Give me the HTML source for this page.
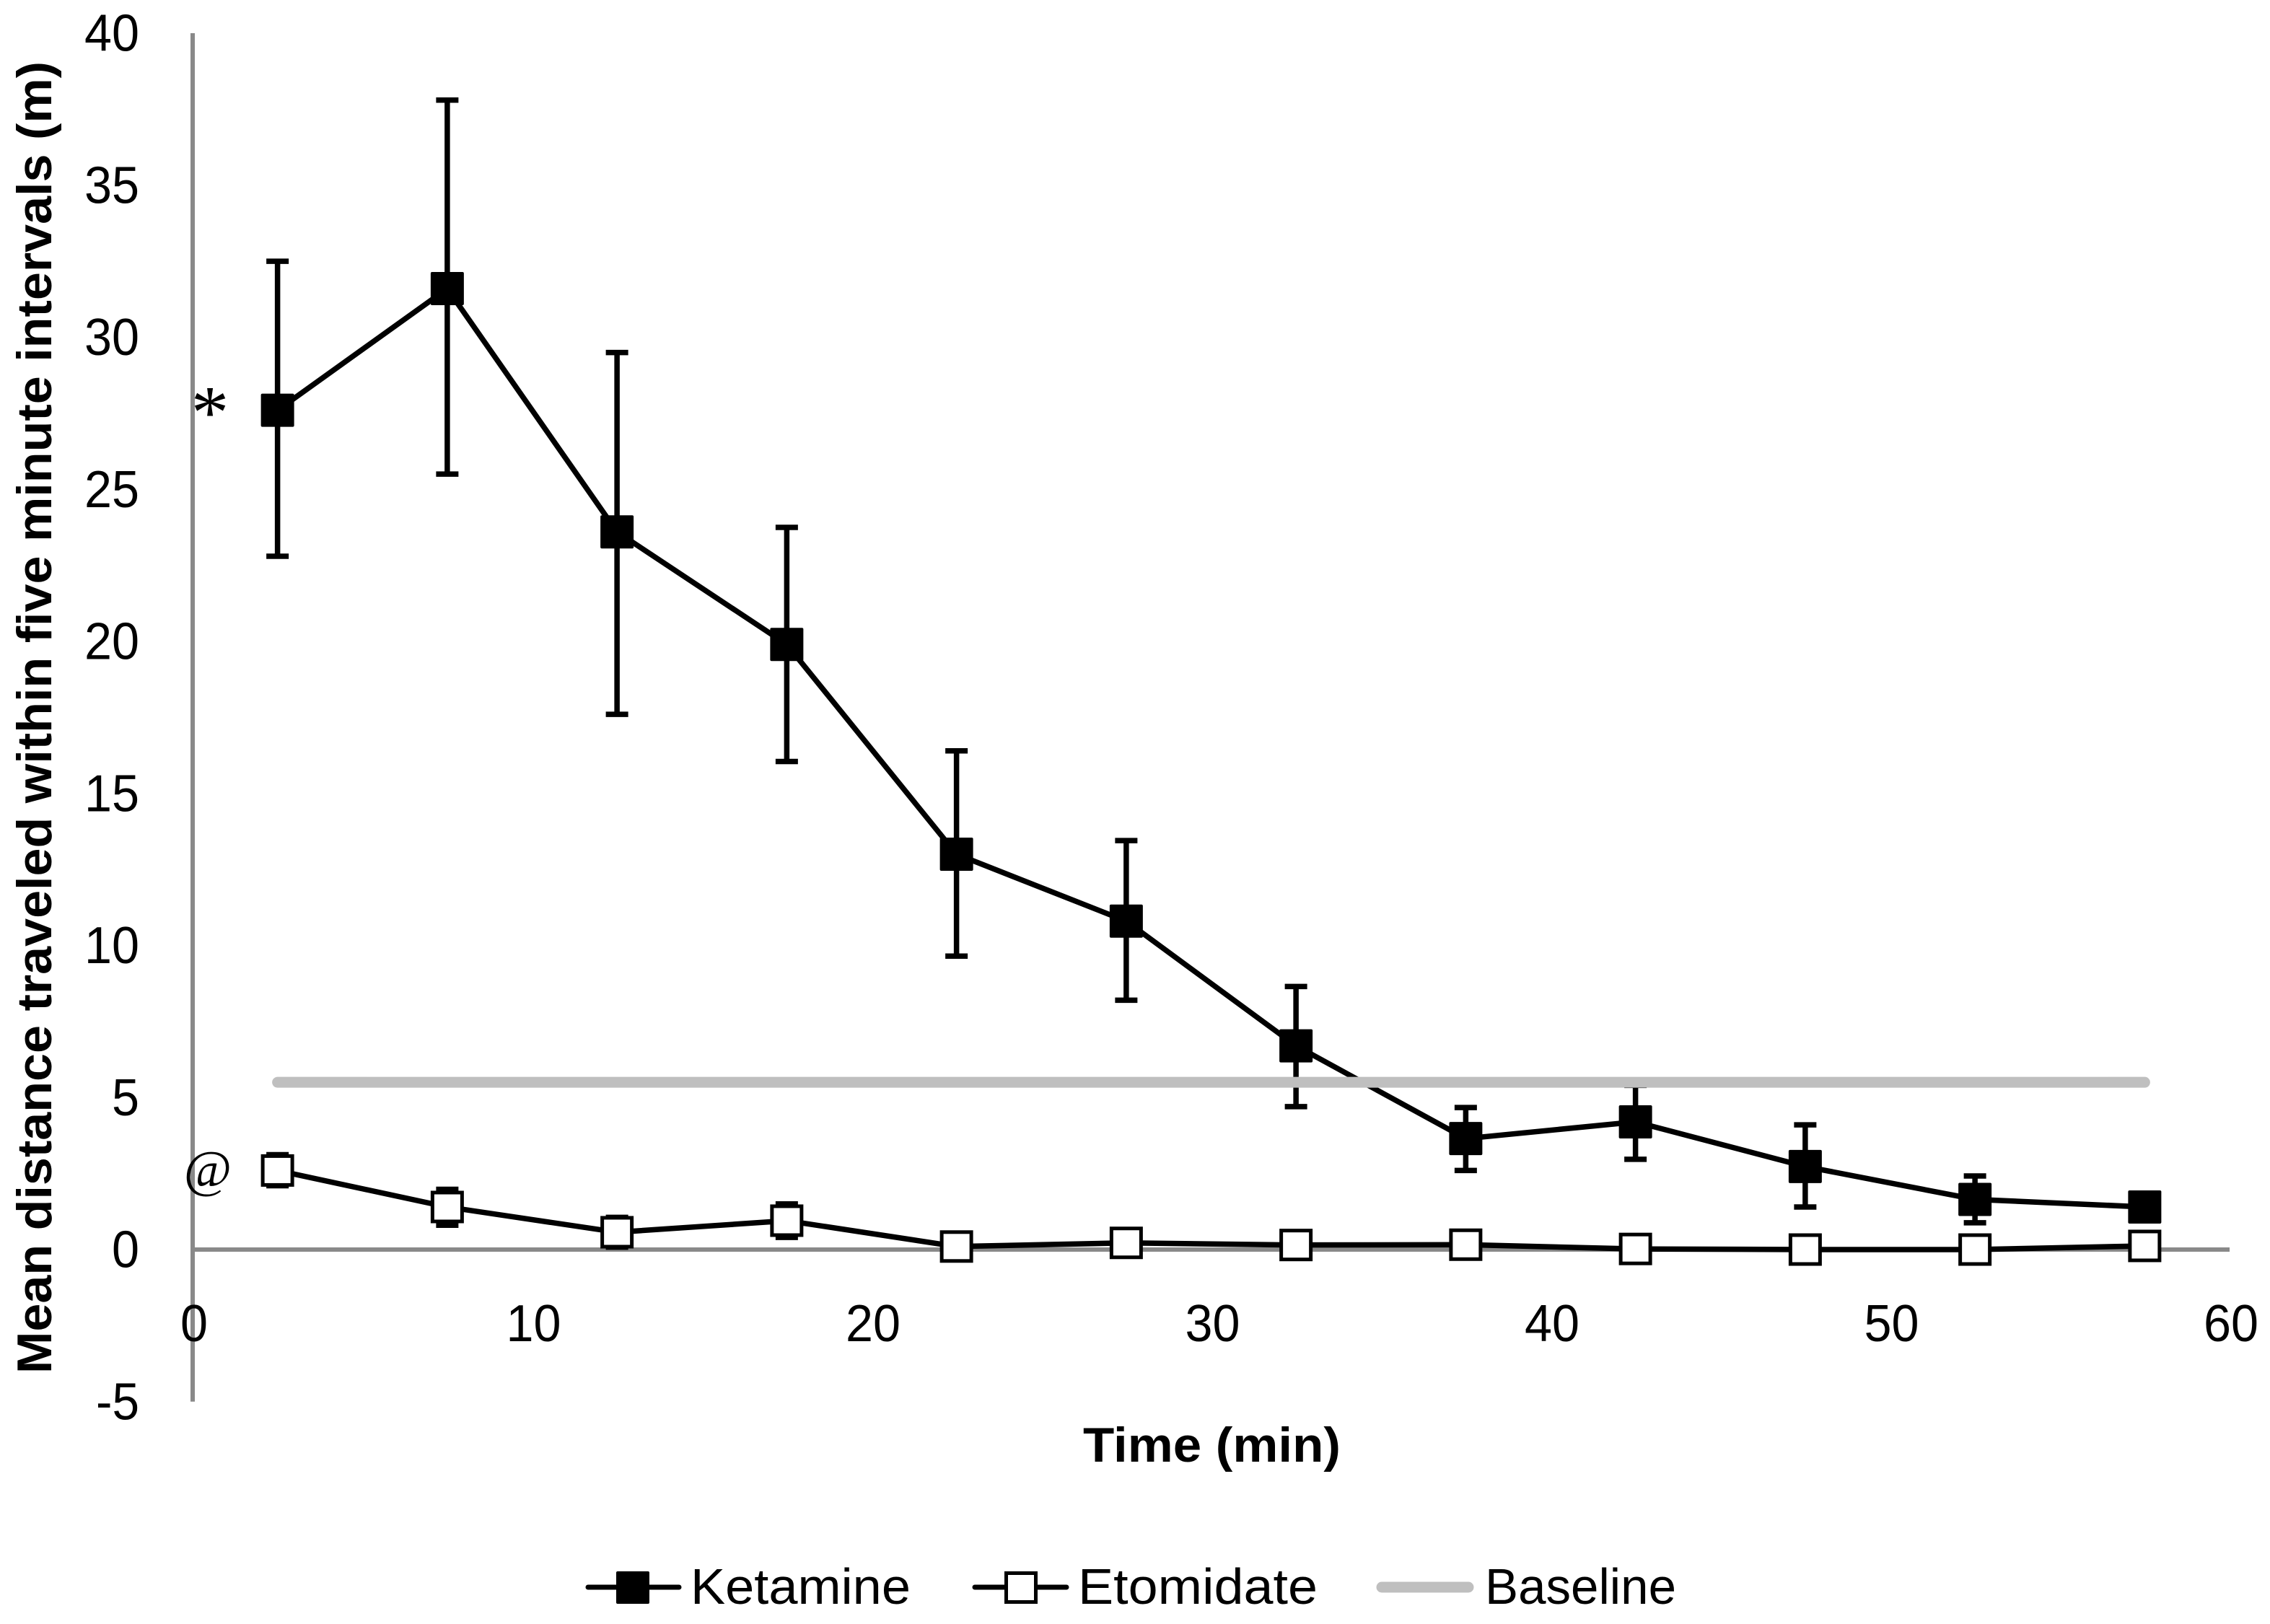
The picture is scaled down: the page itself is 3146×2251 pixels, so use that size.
<!DOCTYPE html>
<html lang="en">
<head>
<meta charset="utf-8">
<title>Mean distance traveled</title>
<style>
html,body{margin:0;padding:0;background:#fff;width:3146px;height:2251px;overflow:hidden}
svg{display:block}
text{font-family:"Liberation Sans",sans-serif;fill:#000}
</style>
</head>
<body>
<svg id="chart" xmlns="http://www.w3.org/2000/svg" width="3146" height="2251" viewBox="0 0 3146 2251">
  <rect width="3146" height="2251" fill="#fff"/>
  <g id="axes"></g>
  <g id="series"></g>
  <text transform="translate(71,1904) rotate(-90)" font-size="68" font-weight="700" textLength="1819" lengthAdjust="spacingAndGlyphs">Mean distance traveled within five minute intervals (m)</text>
  <text x="1501" y="2026" font-size="68" font-weight="700" textLength="357" lengthAdjust="spacingAndGlyphs">Time (min)</text>
  <text x="291" y="607" text-anchor="middle" font-size="105" style="font-family:'Liberation Serif',serif">*</text>
  <text x="288" y="1645" text-anchor="middle" font-size="72" style="font-family:'Liberation Serif',serif">@</text>
  <g>
    <g>
      <line x1="815" x2="941" y1="2200" y2="2200" stroke="#000" stroke-width="7" stroke-linecap="round"/>
      <rect x="854" y="2178" width="46" height="45" rx="2" fill="#000"/>
      <text x="957" y="2223" font-size="70" textLength="305" lengthAdjust="spacingAndGlyphs">Ketamine</text>
    </g>
    <g>
      <line x1="1351" x2="1478" y1="2200" y2="2200" stroke="#000" stroke-width="7" stroke-linecap="round"/>
      <rect x="1394.5" y="2180.5" width="41" height="40" fill="#fff" stroke="#000" stroke-width="5"/>
      <text x="1494" y="2223" font-size="70" textLength="332" lengthAdjust="spacingAndGlyphs">Etomidate</text>
    </g>
    <g>
      <line x1="1915" x2="2035" y1="2200" y2="2200" stroke="#bfbfbf" stroke-width="15" stroke-linecap="round"/>
      <text x="2058" y="2223" font-size="70" textLength="265" lengthAdjust="spacingAndGlyphs">Baseline</text>
    </g>
  </g>
</svg>
<script>
var xTickLabels = [0, 10, 20, 30, 40, 50, 60];
var yTickLabels = [-5, 0, 5, 10, 15, 20, 25, 30, 35, 40];
var timePoints = [2.5, 7.5, 12.5, 17.5, 22.5, 27.5, 32.5, 37.5, 42.5, 47.5, 52.5, 57.5];
var ketamineMean = [27.6, 31.6, 23.6, 19.9, 13.0, 10.8, 6.7, 3.65, 4.2, 2.73, 1.65, 1.4];
var ketamineHigh = [32.5, 37.8, 29.5, 23.75, 16.4, 13.45, 8.65, 4.67, 5.4, 4.1, 2.42, 1.5];
var ketamineLow = [22.8, 25.5, 17.6, 16.05, 9.65, 8.2, 4.7, 2.6, 2.97, 1.4, 0.88, 1.3];
var etomidateMean = [2.6, 1.4, 0.57, 0.95, 0.1, 0.22, 0.15, 0.16, 0.02, 0.0, 0.0, 0.12];
var etomidateHigh = [3.12, 1.98, 1.06, 1.5, 0.2, 0.3, 0.25, 0.25, 0.1, 0.1, 0.1, 0.2];
var etomidateLow = [2.1, 0.8, 0.08, 0.4, 0.0, 0.14, 0.05, 0.07, -0.06, -0.1, -0.1, 0.04];
var baselineValue = [5.5, 5.5];
var baselineTimes = [2.5, 57.5];

var SVGNS = 'http://www.w3.org/2000/svg';
function sx(v) { return 267 + v * 47.05; }
function sy(v) { return 1732 - v * 42.15; }
function make(tag, parent, attrs) {
  var el = document.createElementNS(SVGNS, tag);
  for (var k in attrs) { el.setAttribute(k, attrs[k]); }
  parent.appendChild(el);
  return el;
}
function labelWidth(v) { return v < 0 ? 60 : String(v).length * 38; }
var axes = document.getElementById('axes');
var series = document.getElementById('series');

var yAxis = make('line', axes, {x1: sx(0), x2: sx(0), y1: sy(40), y2: sy(-5), stroke: '#898989', 'stroke-width': 6});


var xAxis = make('line', axes, {x1: sx(0), x2: sx(60), y1: sy(0), y2: sy(0), stroke: '#898989', 'stroke-width': 6});



yTickLabels.forEach(function (v) {
  var t = make('text', axes, {x: 193, y: sy(v) + 24.5, 'text-anchor': 'end', 'font-size': 72, textLength: labelWidth(v), lengthAdjust: 'spacingAndGlyphs'});
  t.textContent = v;
  
  
});
xTickLabels.forEach(function (v) {
  var t = make('text', axes, {x: sx(v) + 2, y: 1859, 'text-anchor': 'middle', 'font-size': 72, textLength: labelWidth(v), lengthAdjust: 'spacingAndGlyphs'});
  t.textContent = v;
  
  
});

function linePoints(values) {
  return timePoints.map(function (t, i) { return sx(t) + ',' + sy(values[i]); }).join(' ');
}
function drawErrors(group, highs, lows, capW, name) {
  timePoints.forEach(function (t, i) {
    var x = sx(t);
    var d = 'M' + x + ' ' + sy(highs[i]) + 'V' + sy(lows[i]) +
      'M' + (x - capW / 2) + ' ' + sy(highs[i]) + 'H' + (x + capW / 2) +
      'M' + (x - capW / 2) + ' ' + sy(lows[i]) + 'H' + (x + capW / 2);
    var p = make('path', group, {d: d, stroke: '#000', 'stroke-width': 7.5, fill: 'none'});
    
    
  });
}

var ketGroup = make('g', series, {});


drawErrors(ketGroup, ketamineHigh, ketamineLow, 31, 'ketamine-error-bar');
var ketLine = make('polyline', ketGroup, {points: linePoints(ketamineMean), fill: 'none', stroke: '#000', 'stroke-width': 7.5, 'stroke-linejoin': 'round'});


timePoints.forEach(function (t, i) {
  var r = make('rect', ketGroup, {x: sx(t) - 23, y: sy(ketamineMean[i]) - 23, width: 46, height: 46, rx: 2, fill: '#000'});
  
  
});

var etoGroup = make('g', series, {});


drawErrors(etoGroup, etomidateHigh, etomidateLow, 31, 'etomidate-error-bar');
var etoLine = make('polyline', etoGroup, {points: linePoints(etomidateMean), fill: 'none', stroke: '#000', 'stroke-width': 7.5, 'stroke-linejoin': 'round'});


timePoints.forEach(function (t, i) {
  var r = make('rect', etoGroup, {x: sx(t) - 20.5, y: sy(etomidateMean[i]) - 20, width: 41, height: 40, fill: '#fff', stroke: '#000', 'stroke-width': 5});
  
  
});

var baseLine = make('line', series, {x1: sx(baselineTimes[0]), x2: sx(baselineTimes[1]), y1: sy(baselineValue[0]), y2: sy(baselineValue[1]), stroke: '#bfbfbf', 'stroke-width': 15, 'stroke-linecap': 'round'});


</script>
</body>
</html>
